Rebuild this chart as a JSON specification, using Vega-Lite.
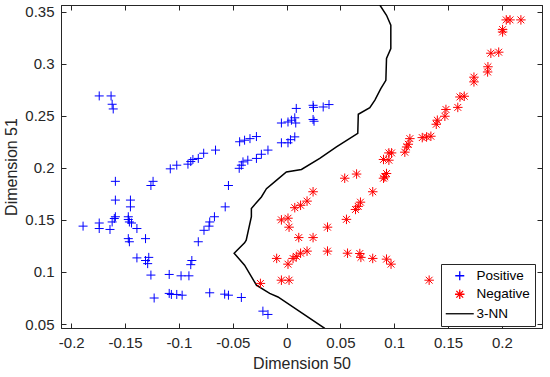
{
  "$schema": "https://vega.github.io/schema/vega-lite/v6.json",
  "autosize": {"type": "none"},
  "padding": {"left": 61, "top": 5, "right": 8, "bottom": 49},
  "width": 481,
  "height": 323,
  "background": "white",
  "config": {
    "view": {"stroke": "#262626", "strokeWidth": 1},
    "font": "Liberation Sans",
    "axis": {
      "domainColor": "#262626", "tickColor": "#262626", "labelColor": "#262626", "titleColor": "#262626",
      "labelFont": "Liberation Sans", "titleFont": "Liberation Sans", "labelFontSize": 15, "titleFontSize": 16,
      "titleFontWeight": "normal", "grid": false, "tickSize": -5, "domainWidth": 1, "tickWidth": 1
    },
    "legend": {
      "orient": "none", "legendX": 380, "legendY": 259, "strokeColor": "#262626", "fillColor": "white",
      "padding": 5, "labelFont": "Liberation Sans", "labelFontSize": 13.5, "labelColor": "#000000",
      "symbolStrokeWidth": 1.3, "rowPadding": 3.5, "labelOffset": 10, "symbolOffset": 7, "title": null
    }
  },
  "datasets": {
    "points": [
      {"s": "Positive", "x": -0.174, "y": 0.269}, {"s": "Positive", "x": -0.163, "y": 0.269},
      {"s": "Positive", "x": -0.162, "y": 0.261}, {"s": "Positive", "x": -0.161, "y": 0.2565},
      {"s": "Positive", "x": -0.159, "y": 0.187}, {"s": "Positive", "x": -0.126, "y": 0.183},
      {"s": "Positive", "x": -0.124, "y": 0.187}, {"s": "Positive", "x": -0.108, "y": 0.199},
      {"s": "Positive", "x": -0.102, "y": 0.2025}, {"s": "Positive", "x": -0.0916, "y": 0.2035},
      {"s": "Positive", "x": -0.089, "y": 0.206}, {"s": "Positive", "x": -0.087, "y": 0.208},
      {"s": "Positive", "x": -0.082, "y": 0.209}, {"s": "Positive", "x": -0.077, "y": 0.214},
      {"s": "Positive", "x": -0.066, "y": 0.217}, {"s": "Positive", "x": -0.159, "y": 0.169},
      {"s": "Positive", "x": -0.145, "y": 0.169}, {"s": "Positive", "x": -0.145, "y": 0.1625},
      {"s": "Positive", "x": -0.054, "y": 0.183}, {"s": "Positive", "x": -0.057, "y": 0.1625},
      {"s": "Positive", "x": -0.159, "y": 0.153}, {"s": "Positive", "x": -0.147, "y": 0.153},
      {"s": "Positive", "x": -0.067, "y": 0.153}, {"s": "Positive", "x": -0.189, "y": 0.144},
      {"s": "Positive", "x": -0.174, "y": 0.147}, {"s": "Positive", "x": -0.174, "y": 0.1417},
      {"s": "Positive", "x": -0.164, "y": 0.1408}, {"s": "Positive", "x": -0.162, "y": 0.148},
      {"s": "Positive", "x": -0.160, "y": 0.1513}, {"s": "Positive", "x": -0.147, "y": 0.1504},
      {"s": "Positive", "x": -0.146, "y": 0.148}, {"s": "Positive", "x": -0.144, "y": 0.147},
      {"s": "Positive", "x": -0.139, "y": 0.1417}, {"s": "Positive", "x": -0.147, "y": 0.132},
      {"s": "Positive", "x": -0.146, "y": 0.129}, {"s": "Positive", "x": -0.131, "y": 0.132},
      {"s": "Positive", "x": -0.0714, "y": 0.148}, {"s": "Positive", "x": -0.072, "y": 0.144},
      {"s": "Positive", "x": -0.0767, "y": 0.140}, {"s": "Positive", "x": -0.082, "y": 0.129},
      {"s": "Positive", "x": -0.139, "y": 0.1135}, {"s": "Positive", "x": -0.131, "y": 0.111},
      {"s": "Positive", "x": -0.129, "y": 0.108}, {"s": "Positive", "x": -0.128, "y": 0.114},
      {"s": "Positive", "x": -0.126, "y": 0.097}, {"s": "Positive", "x": -0.088, "y": 0.111},
      {"s": "Positive", "x": -0.089, "y": 0.107}, {"s": "Positive", "x": -0.109, "y": 0.0976},
      {"s": "Positive", "x": -0.098, "y": 0.0963}, {"s": "Positive", "x": -0.0907, "y": 0.0963},
      {"s": "Positive", "x": -0.123, "y": 0.075}, {"s": "Positive", "x": -0.109, "y": 0.0794},
      {"s": "Positive", "x": -0.107, "y": 0.0784}, {"s": "Positive", "x": -0.102, "y": 0.0784},
      {"s": "Positive", "x": -0.097, "y": 0.0777}, {"s": "Positive", "x": -0.0714, "y": 0.080},
      {"s": "Positive", "x": -0.0575, "y": 0.0787}, {"s": "Positive", "x": -0.054, "y": 0.0777},
      {"s": "Positive", "x": -0.042, "y": 0.0755}, {"s": "Positive", "x": -0.022, "y": 0.0624},
      {"s": "Positive", "x": -0.0173, "y": 0.0592}, {"s": "Positive", "x": -0.044, "y": 0.1995},
      {"s": "Positive", "x": -0.042, "y": 0.2025}, {"s": "Positive", "x": -0.0405, "y": 0.2057},
      {"s": "Positive", "x": -0.036, "y": 0.2073}, {"s": "Positive", "x": -0.028, "y": 0.209},
      {"s": "Positive", "x": -0.0234, "y": 0.213}, {"s": "Positive", "x": -0.0173, "y": 0.217},
      {"s": "Positive", "x": -0.0436, "y": 0.225}, {"s": "Positive", "x": -0.039, "y": 0.2265},
      {"s": "Positive", "x": -0.034, "y": 0.228}, {"s": "Positive", "x": -0.028, "y": 0.230},
      {"s": "Positive", "x": -0.0048, "y": 0.243}, {"s": "Positive", "x": 0.0013, "y": 0.244},
      {"s": "Positive", "x": 0.0045, "y": 0.2457}, {"s": "Positive", "x": 0.0076, "y": 0.248},
      {"s": "Positive", "x": 0.0085, "y": 0.243}, {"s": "Positive", "x": 0.0246, "y": 0.2464},
      {"s": "Positive", "x": 0.0255, "y": 0.2447}, {"s": "Positive", "x": 0.009, "y": 0.257},
      {"s": "Positive", "x": 0.0246, "y": 0.260}, {"s": "Positive", "x": 0.025, "y": 0.258},
      {"s": "Positive", "x": 0.034, "y": 0.2584}, {"s": "Positive", "x": 0.0394, "y": 0.2607},
      {"s": "Positive", "x": -0.0048, "y": 0.224}, {"s": "Positive", "x": 0.0013, "y": 0.224},
      {"s": "Positive", "x": 0.0036, "y": 0.227}, {"s": "Positive", "x": 0.0076, "y": 0.2297},
      {"s": "Negative", "x": 0.204, "y": 0.342}, {"s": "Negative", "x": 0.2075, "y": 0.342},
      {"s": "Negative", "x": 0.2176, "y": 0.342}, {"s": "Negative", "x": 0.2006, "y": 0.3327},
      {"s": "Negative", "x": 0.2006, "y": 0.3304}, {"s": "Negative", "x": 0.1897, "y": 0.310},
      {"s": "Negative", "x": 0.197, "y": 0.311}, {"s": "Negative", "x": 0.187, "y": 0.297},
      {"s": "Negative", "x": 0.1867, "y": 0.292}, {"s": "Negative", "x": 0.174, "y": 0.287},
      {"s": "Negative", "x": 0.174, "y": 0.2825}, {"s": "Negative", "x": 0.161, "y": 0.268},
      {"s": "Negative", "x": 0.165, "y": 0.2687}, {"s": "Negative", "x": 0.159, "y": 0.258},
      {"s": "Negative", "x": 0.148, "y": 0.256}, {"s": "Negative", "x": 0.147, "y": 0.2495},
      {"s": "Negative", "x": 0.140, "y": 0.2457}, {"s": "Negative", "x": 0.139, "y": 0.2418},
      {"s": "Negative", "x": 0.126, "y": 0.229}, {"s": "Negative", "x": 0.130, "y": 0.2296},
      {"s": "Negative", "x": 0.134, "y": 0.2303}, {"s": "Negative", "x": 0.1145, "y": 0.228},
      {"s": "Negative", "x": 0.113, "y": 0.2226}, {"s": "Negative", "x": 0.1115, "y": 0.220},
      {"s": "Negative", "x": 0.1098, "y": 0.215}, {"s": "Negative", "x": 0.095, "y": 0.2143},
      {"s": "Negative", "x": 0.0975, "y": 0.2143}, {"s": "Negative", "x": 0.090, "y": 0.208},
      {"s": "Negative", "x": 0.095, "y": 0.2073}, {"s": "Negative", "x": 0.0928, "y": 0.1945},
      {"s": "Negative", "x": 0.0912, "y": 0.1913}, {"s": "Negative", "x": 0.065, "y": 0.194},
      {"s": "Negative", "x": 0.054, "y": 0.190}, {"s": "Negative", "x": 0.090, "y": 0.190},
      {"s": "Negative", "x": 0.0246, "y": 0.177}, {"s": "Negative", "x": 0.080, "y": 0.177},
      {"s": "Negative", "x": 0.019, "y": 0.168}, {"s": "Negative", "x": 0.013, "y": 0.164},
      {"s": "Negative", "x": 0.0076, "y": 0.1617}, {"s": "Negative", "x": 0.0686, "y": 0.167},
      {"s": "Negative", "x": 0.0665, "y": 0.163}, {"s": "Negative", "x": 0.064, "y": 0.160},
      {"s": "Negative", "x": -0.0048, "y": 0.150}, {"s": "Negative", "x": 0.0013, "y": 0.1516},
      {"s": "Negative", "x": 0.0023, "y": 0.143}, {"s": "Negative", "x": 0.0556, "y": 0.1505},
      {"s": "Negative", "x": 0.038, "y": 0.143}, {"s": "Negative", "x": 0.0113, "y": 0.133},
      {"s": "Negative", "x": 0.0246, "y": 0.133}, {"s": "Negative", "x": 0.019, "y": 0.120},
      {"s": "Negative", "x": 0.013, "y": 0.118}, {"s": "Negative", "x": 0.009, "y": 0.115},
      {"s": "Negative", "x": 0.006, "y": 0.113}, {"s": "Negative", "x": -0.0092, "y": 0.113},
      {"s": "Negative", "x": 0.0013, "y": 0.1075}, {"s": "Negative", "x": 0.038, "y": 0.120},
      {"s": "Negative", "x": 0.0566, "y": 0.118}, {"s": "Negative", "x": 0.068, "y": 0.1177},
      {"s": "Negative", "x": 0.069, "y": 0.114}, {"s": "Negative", "x": 0.080, "y": 0.113},
      {"s": "Negative", "x": 0.0928, "y": 0.1123}, {"s": "Negative", "x": 0.097, "y": 0.1075},
      {"s": "Negative", "x": 0.1324, "y": 0.0921}, {"s": "Negative", "x": -0.0048, "y": 0.0921},
      {"s": "Negative", "x": 0.0023, "y": 0.0921}, {"s": "Negative", "x": -0.0243, "y": 0.089}
    ],
    "boundary": [
      {"s": "3-NN", "i": 1, "x": 0.0866, "y": 0.3563}, {"s": "3-NN", "i": 2, "x": 0.0928, "y": 0.3464},
      {"s": "3-NN", "i": 3, "x": 0.0968, "y": 0.3369}, {"s": "3-NN", "i": 4, "x": 0.0968, "y": 0.3145},
      {"s": "3-NN", "i": 5, "x": 0.0928, "y": 0.305}, {"s": "3-NN", "i": 6, "x": 0.0922, "y": 0.284},
      {"s": "3-NN", "i": 7, "x": 0.0875, "y": 0.276}, {"s": "3-NN", "i": 8, "x": 0.082, "y": 0.265},
      {"s": "3-NN", "i": 9, "x": 0.0773, "y": 0.2577}, {"s": "3-NN", "i": 10, "x": 0.0666, "y": 0.2514},
      {"s": "3-NN", "i": 11, "x": 0.0661, "y": 0.233}, {"s": "3-NN", "i": 12, "x": 0.0463, "y": 0.220},
      {"s": "3-NN", "i": 13, "x": 0.0308, "y": 0.209}, {"s": "3-NN", "i": 14, "x": 0.0138, "y": 0.1984},
      {"s": "3-NN", "i": 15, "x": -0.0002, "y": 0.196}, {"s": "3-NN", "i": 16, "x": -0.0095, "y": 0.188},
      {"s": "3-NN", "i": 17, "x": -0.0187, "y": 0.180}, {"s": "3-NN", "i": 18, "x": -0.0234, "y": 0.172},
      {"s": "3-NN", "i": 19, "x": -0.0327, "y": 0.161}, {"s": "3-NN", "i": 20, "x": -0.0327, "y": 0.153},
      {"s": "3-NN", "i": 21, "x": -0.0375, "y": 0.1305}, {"s": "3-NN", "i": 22, "x": -0.039, "y": 0.128},
      {"s": "3-NN", "i": 23, "x": -0.0487, "y": 0.118}, {"s": "3-NN", "i": 24, "x": -0.039, "y": 0.1065},
      {"s": "3-NN", "i": 25, "x": -0.028, "y": 0.0873}, {"s": "3-NN", "i": 26, "x": -0.0157, "y": 0.0794},
      {"s": "3-NN", "i": 27, "x": -0.008, "y": 0.076}, {"s": "3-NN", "i": 28, "x": 0.0355, "y": 0.0458}
    ]
  },
  "layer": [
    {
      "data": {"name": "boundary"},
      "mark": {"type": "line", "strokeWidth": 1.5, "clip": true},
      "encoding": {
        "x": {"field": "x", "type": "quantitative", "scale": {"domain": [-0.2095, 0.2372], "nice": false, "zero": false}, "axis": null},
        "y": {"field": "y", "type": "quantitative", "scale": {"domain": [0.0462, 0.3563], "nice": false, "zero": false}, "axis": null},
        "order": {"field": "i", "type": "quantitative"},
        "color": {"field": "s", "type": "nominal", "title": null,
          "scale": {"domain": ["Positive", "Negative", "3-NN"], "range": ["#0000ff", "#ff0000", "#000000"]}}
      }
    },
    {
      "data": {"name": "points"},
      "mark": {"type": "point", "filled": false, "strokeWidth": 1, "opacity": 1},
      "encoding": {
        "x": {"field": "x", "type": "quantitative",
          "axis": {"orient": "bottom", "title": "Dimension 50", "values": [-0.2, -0.15, -0.1, -0.05, 0, 0.05, 0.1, 0.15, 0.2],
            "labelExpr": "datum.value < 0 ? '-' + format(-datum.value, '~g') : format(datum.value, '~g')",
            "labelPadding": 12.5, "titlePadding": 5, "labelFlush": false}},
        "y": {"field": "y", "type": "quantitative",
          "axis": {"orient": "left", "title": "Dimension 51", "values": [0.05, 0.1, 0.15, 0.2, 0.25, 0.3, 0.35],
            "labelExpr": "format(datum.value, '~g')", "labelPadding": 12, "titlePadding": 5, "labelFlush": false}},
        "color": {"field": "s", "type": "nominal", "title": null,
          "legend": {"labelExpr": "datum.label + ' '"},
          "scale": {"domain": ["Positive", "Negative", "3-NN"], "range": ["#0000ff", "#ff0000", "#000000"]}},
        "shape": {"field": "s", "type": "nominal", "title": null,
          "legend": {"labelExpr": "datum.label + ' '"},
          "scale": {"domain": ["Positive", "Negative", "3-NN"],
            "range": ["M-1,0L1,0M0,-1L0,1", "M-1,0L1,0M0,-1L0,1M-0.72,-0.72L0.72,0.72M-0.72,0.72L0.72,-0.72", "M-3.5,0L3.5,0"]}},
        "size": {"field": "s", "type": "nominal", "title": null,
          "legend": {"labelExpr": "datum.label + ' '"},
          "scale": {"type": "ordinal", "domain": ["Positive", "Negative", "3-NN"], "range": [81, 90, 64]}}
      }
    },
    {
      "data": {"name": "points"},
      "mark": {"type": "point", "opacity": 0},
      "encoding": {
        "x": {"field": "x", "type": "quantitative",
          "axis": {"orient": "top", "title": null, "labels": false, "values": [-0.2, -0.15, -0.1, -0.05, 0, 0.05, 0.1, 0.15, 0.2]}},
        "y": {"field": "y", "type": "quantitative",
          "axis": {"orient": "right", "title": null, "labels": false, "values": [0.05, 0.1, 0.15, 0.2, 0.25, 0.3, 0.35]}}
      }
    }
  ],
  "resolve": {"axis": {"x": "independent", "y": "independent"}}
}
